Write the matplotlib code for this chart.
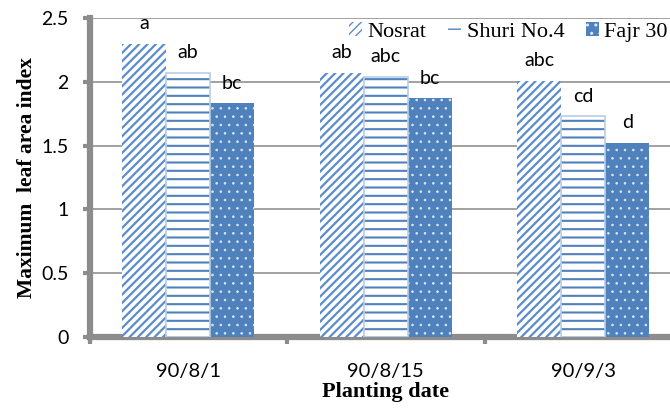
import numpy as np
import matplotlib
matplotlib.use("Agg")
import matplotlib.pyplot as plt

# data
dates = ["90/8/1", "90/8/15", "90/9/3"]
varieties = ["Nosrat", "Shuri No.4", "Fajr 30"]
nosrat = [2.30, 2.07, 2.01]
shuri = [2.07, 2.04, 1.73]
fajr = [1.83, 1.87, 1.52]
letters_nosrat = ["a", "ab", "abc"]
letters_shuri = ["ab", "abc", "cd"]
letters_fajr = ["bc", "bc", "d"]

blue = "#4f81bd"
light = "#b9cde5"
grey = "#8c8c8c"


def hatched_bar(ax, xs, vals, w, hlw, **kw):
    # hatch width is taken from rcParams when the bar is made
    with plt.rc_context({"hatch.linewidth": hlw}):
        bars = ax.bar(xs, vals, w, **kw)
    for r in bars:
        if hasattr(r, "set_hatch_linewidth"):
            r.set_hatch_linewidth(hlw)
    return bars


fig = plt.figure(figsize=(6.7, 4.16), dpi=100)
# axes run a bit past the right edge, like the cropped original
ax = fig.add_axes([89.5 / 670, 1 - 337 / 416, (682 - 89.5) / 670, (337 - 18) / 416])

x = np.arange(len(dates)) + 0.5
w = 0.223

b1 = hatched_bar(ax, x - w, nosrat, w, 1.6, color="white", edgecolor="#5b8ccb",
                 hatch="////", linewidth=0, zorder=3, label=varieties[0])
b2 = hatched_bar(ax, x, shuri, w, 1.5, color="white", edgecolor=blue,
                 hatch="--", linewidth=0, zorder=3, label=varieties[1])
ax.bar(x, shuri, w, fill=False, edgecolor=light, linewidth=1.2, zorder=4)
b3 = hatched_bar(ax, x + w, fajr, w, 0.6, color=blue, edgecolor="#dfe8f4",
                 hatch="..", linewidth=0, zorder=3, label=varieties[2])

# significance letters
for bars, vals, labs in [(b1, nosrat, letters_nosrat),
                         (b2, shuri, letters_shuri),
                         (b3, fajr, letters_fajr)]:
    for rect, v, t in zip(bars, vals, labs):
        ax.annotate(t, (rect.get_x() + rect.get_width() / 2, v),
                    xytext=(0, 10.5), textcoords="offset points",
                    ha="center", va="baseline", fontsize=14,
                    family="Lato", color="black")

ax.set_xlim(0, 3)
ax.set_ylim(0, 2.5)
ax.set_yticks([0, 0.5, 1, 1.5, 2, 2.5])
ax.set_yticklabels(["0", "0.5", "1", "1.5", "2", "2.5"], family="Lato", fontsize=14)
ax.set_xticks([0, 1, 2, 3])
ax.set_xticklabels([])
ax.set_xticks(x, minor=True)
ax.set_xticklabels(dates, minor=True, family="Lato", fontsize=14.5)
ax.tick_params(axis="x", which="minor", length=0, pad=19)
ax.tick_params(axis="both", which="major", length=5, width=3, color=grey,
               direction="out")
ax.tick_params(axis="y", pad=10)

ax.grid(axis="y", color="#9a9a9a", linewidth=1.3, zorder=0)
ax.set_axisbelow(True)
for s in ["top", "right"]:
    ax.spines[s].set_visible(False)
for s in ["left", "bottom"]:
    ax.spines[s].set_color(grey)
    ax.spines[s].set_linewidth(4.5)
    ax.spines[s].set_zorder(2)

ax.set_ylabel("Maximum  leaf area index", family="Liberation Serif",
              fontweight="bold", fontsize=15.5, labelpad=3)
ax.set_xlabel("Planting date", family="Liberation Serif",
              fontweight="bold", fontsize=16, labelpad=1)

fig.legend(handles=[b1, b2, b3], loc="center right",
           bbox_to_anchor=(0.997, 1 - 32 / 416), ncol=3, frameon=False,
           prop={"family": "Liberation Serif", "size": 16},
           handlelength=0.6, handleheight=0.6, handletextpad=0.25,
           columnspacing=0.95, borderaxespad=0, borderpad=0)

fig.savefig("out.png", dpi=100)
